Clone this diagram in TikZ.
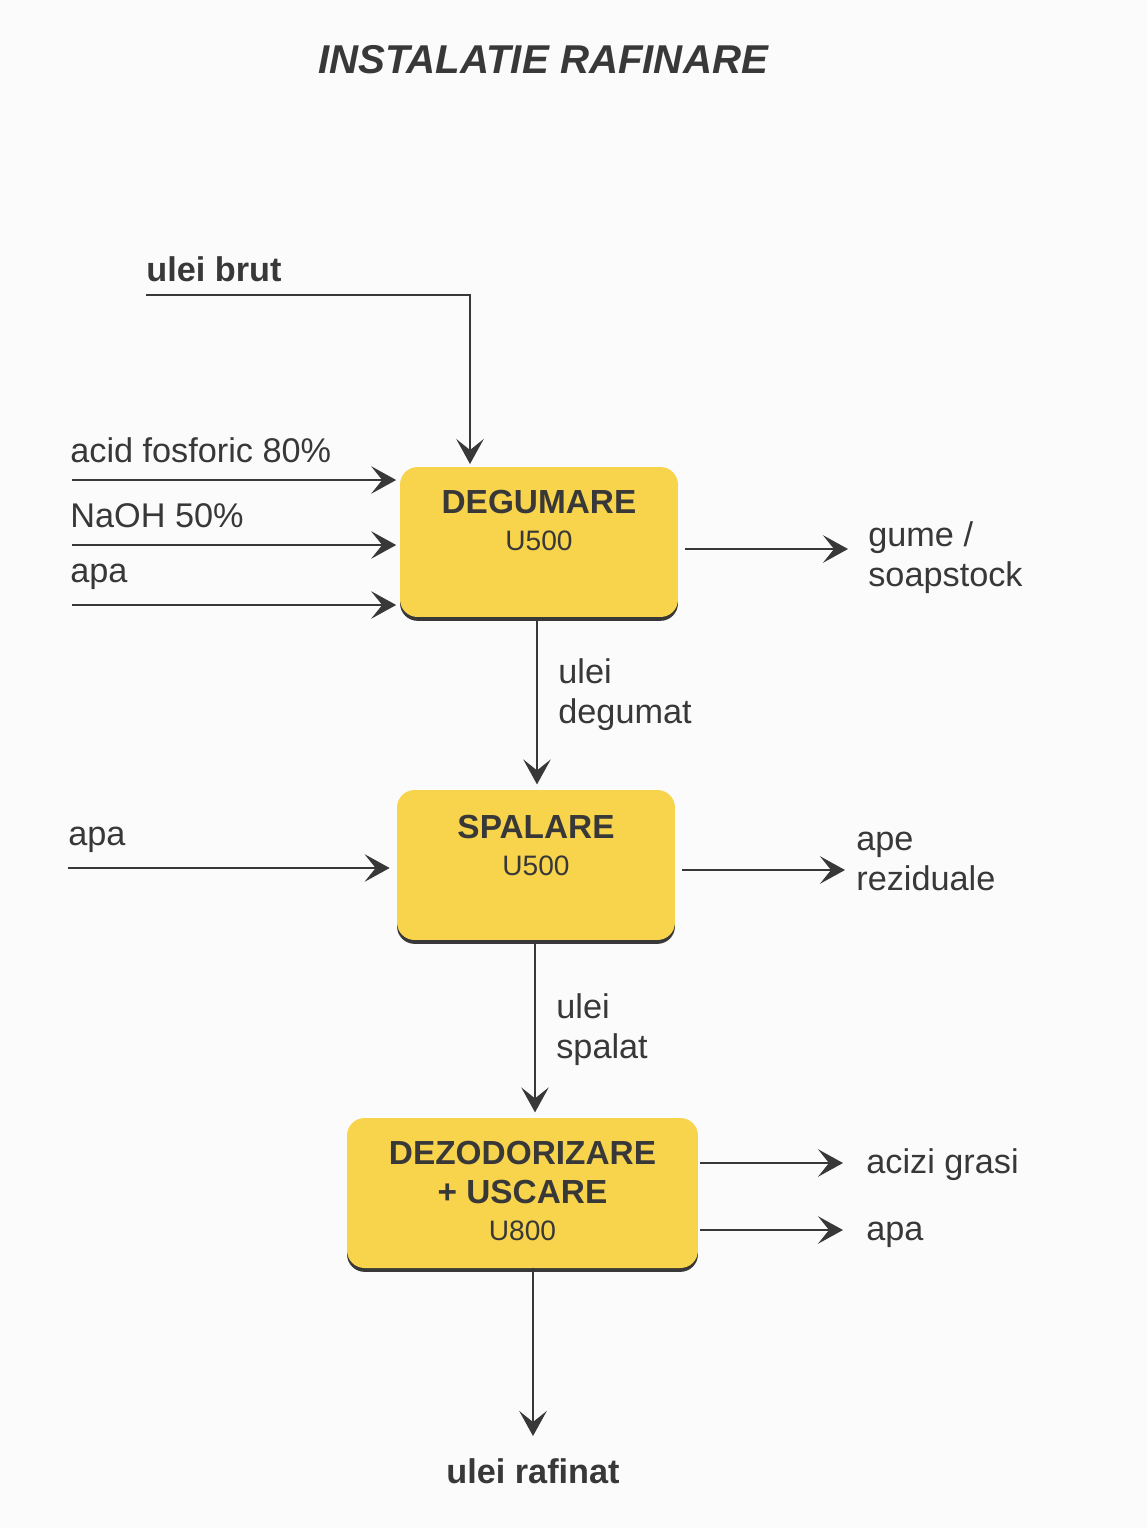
\documentclass[tikz,border=0pt]{standalone}
\usepackage{fontspec}
\setmainfont{Liberation Sans}
\usetikzlibrary{arrows.meta,shadows}

\definecolor{unitfill}{HTML}{F8D44C}
\definecolor{inkgray}{HTML}{383838}
\definecolor{paper}{HTML}{FBFBFB}

\tikzset{
  unit/.style={rectangle, rounded corners=10pt, fill=unitfill, draw=none,
    drop shadow={shadow xshift=0pt, shadow yshift=-2.2pt, fill=inkgray, opacity=1}},
  unittext/.style={anchor=north, align=center, text=inkgray, font=\bfseries\fontsize{19}{22.2}\selectfont},
  lbl/.style={anchor=base west, align=left, inner xsep=0pt, text=inkgray, font=\fontsize{19.5}{22.7}\selectfont},
  flow/.style={draw=inkgray, line width=1.1pt, -{Stealth[length=0.5cm, width=0.55cm, inset=0.22cm]}},
  plain/.style={draw=inkgray, line width=1.1pt}
}

\begin{document}
\begin{tikzpicture}[x=0.02cm, y=-0.02cm]
        \fill[paper] (0,0) rectangle (1147,1528);
        \useasboundingbox (0,0) rectangle (1147,1528);

        % titlu
        \node[text=inkgray, font=\bfseries\itshape\fontsize{22.9}{26}\selectfont, anchor=base] (titlu) at (543,73) {INSTALATIE RAFINARE};

        % unitati
        \node[unit, minimum width=5.56cm, minimum height=3cm] (deg) at (539,542) {};
        \node[unit, minimum width=5.56cm, minimum height=3cm] (spa) at (536,865) {};
        \node[unit, minimum width=7.02cm, minimum height=3cm] (dez) at (522.5,1193) {};

        \node[unittext] (degT) at (539,484) {DEGUMARE\\[-1pt]{\mdseries\fontsize{16}{18}\selectfont U500}};
        \node[unittext] (spaT) at (536,809) {SPALARE\\[-1pt]{\mdseries\fontsize{16}{18}\selectfont U500}};
        \node[unittext] (dezT) at (522.5,1135) {DEZODORIZARE\\+ USCARE\\[-1pt]{\mdseries\fontsize{16}{18}\selectfont U800}};

        % intrari
        \node[lbl, font=\bfseries\fontsize{19.5}{22.7}\selectfont] (brutL) at (146,281) {ulei brut};
        \node[lbl] (acidL) at (70,462) {acid fosforic 80\%};
        \node[lbl] (naohL) at (70,527) {NaOH 50\%};
        \node[lbl] (apa1L) at (70,582) {apa};
        \node[lbl] (apa2L) at (68,845) {apa};

        \coordinate (brut) at (146,295);
        \coordinate (brutIn) at (470,464);
        \coordinate (acid) at (72,480);
        \coordinate (naoh) at (72,545);
        \coordinate (apa1) at (72,605);
        \coordinate (apa2) at (68,868);

        \draw[flow] (brut) -| (brutIn);
        \draw[flow] (acid) -- ([xshift=-2pt]acid -| deg.west);
        \draw[flow] (naoh) -- ([xshift=-2pt]naoh -| deg.west);
        \draw[flow] (apa1) -- ([xshift=-2pt]apa1 -| deg.west);
        \draw[flow] (apa2) -- ([xshift=-4pt]apa2 -| spa.west);

        % iesiri
        \coordinate (gume) at (848,549);
        \coordinate (ape) at (845,870);
        \coordinate (acizi) at (843,1163);
        \coordinate (apa3) at (843,1230);
        \draw[flow] ([xshift=4pt]gume -| deg.east) -- (gume);
        \draw[flow] ([xshift=4pt]ape -| spa.east) -- (ape);
        \draw[flow] ([xshift=1pt]acizi -| dez.east) -- (acizi);
        \draw[flow] ([xshift=1pt]apa3 -| dez.east) -- (apa3);

        \node[lbl] (gumeL) at (868,586) {gume /\\soapstock};
        \node[lbl] (apeL) at (856,890) {ape\\reziduale};
        \node[lbl] (aciziL) at (866,1173) {acizi grasi};
        \node[lbl] (apa3L) at (866,1240) {apa};

        % legaturi intre unitati
        \coordinate (s1) at (537,617);
        \coordinate (s2) at (535,940);
        \coordinate (s3) at (533,1268);
        \draw[flow] (s1) -- ([yshift=3pt]s1 |- spa.north);
        \draw[flow] (s2) -- ([yshift=3pt]s2 |- dez.north);
        \node[lbl] (degumL) at (558,723) {ulei\\degumat};
        \node[lbl] (spalL) at (556,1058) {ulei\\spalat};

        % produs final
        \node[text=inkgray, font=\bfseries\fontsize{19.5}{22.7}\selectfont, anchor=base] (rafL) at (533,1483) {ulei rafinat};
        \coordinate (raf) at (533,1436);
        \draw[flow] (s3) -- (raf);
\end{tikzpicture}
\end{document}
